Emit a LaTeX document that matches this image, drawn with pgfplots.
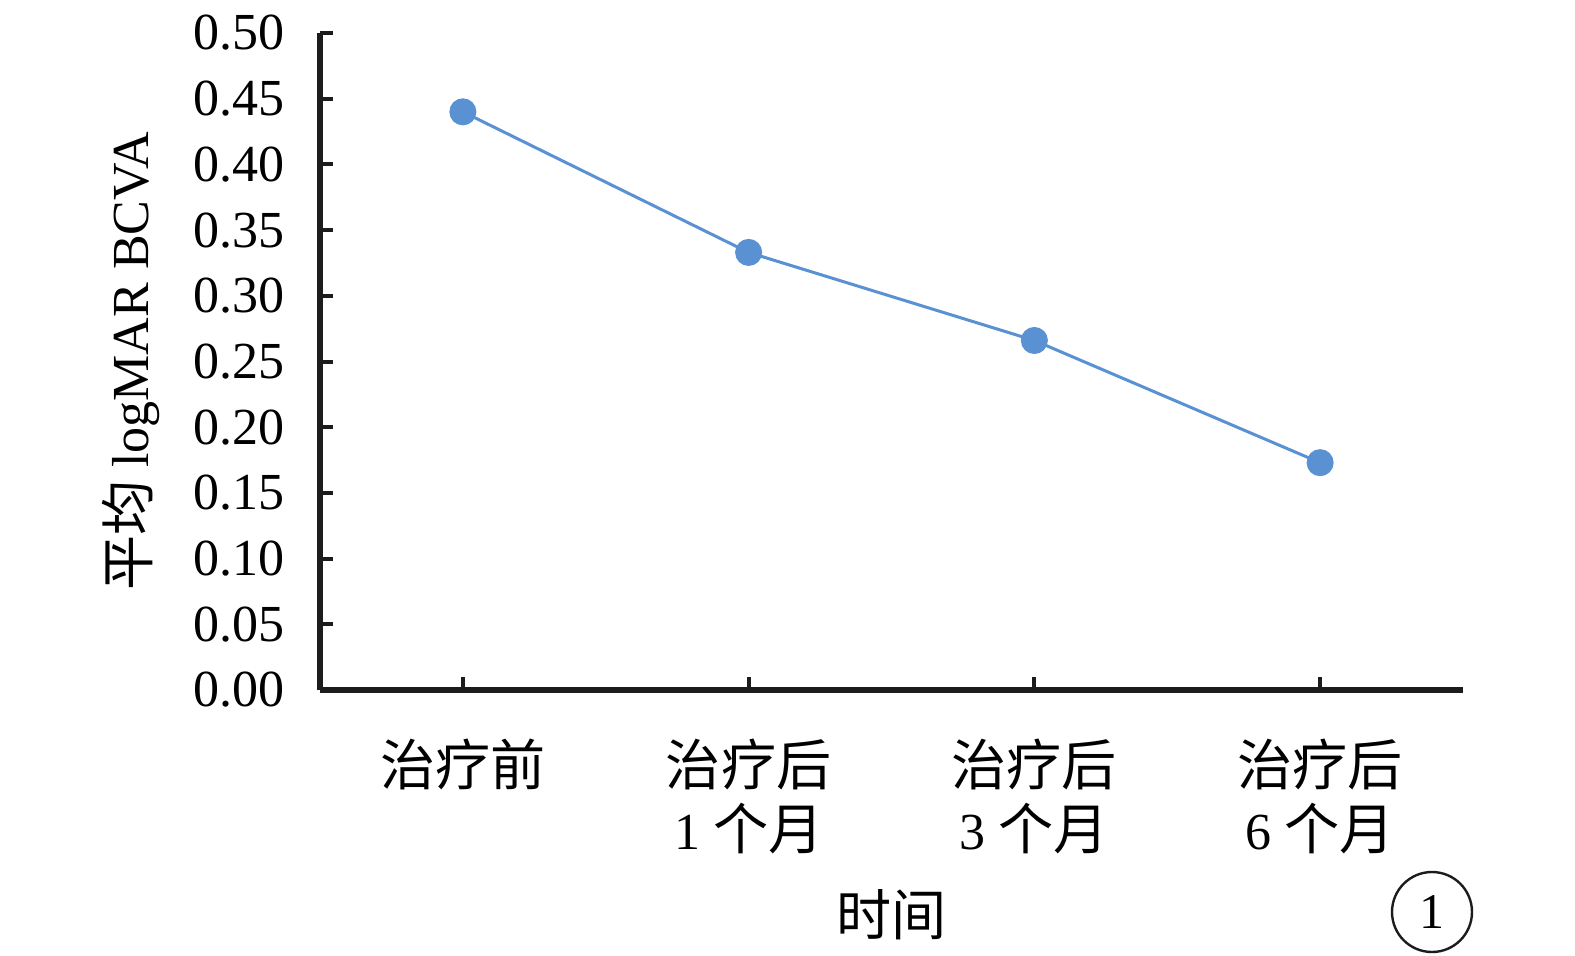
\documentclass[border=0pt]{standalone}
\usepackage{pgfplots}
\pgfplotsset{compat=1.18}
\usepackage{fontspec}
\setmainfont{Liberation Serif}
\newfontfamily\cjk[Scale=1.06]{Noto Sans CJK SC}
\definecolor{lineblue}{RGB}{90,145,210}
\definecolor{axisblack}{RGB}{30,27,28}
\begin{document}
\begin{tikzpicture}
\useasboundingbox (-160pt,-132.5pt) rectangle (627.5pt,345pt);
\begin{axis}[
  at={(0,0)}, anchor=south west, scale only axis,
  width=571.5pt, height=328.5pt,
  xmin=-0.5, xmax=3.5, ymin=0, ymax=0.5,
  axis x line*=bottom, axis y line*=left,
  axis line style={line width=2.8pt, color=axisblack},
  tick align=inside, major tick length=6.5pt,
  tick style={line width=2pt, color=axisblack},
  xtick={0,1,2,3},
  xticklabels={{{\cjk 治疗前}},{{\cjk 治疗后}\\1 {\cjk 个月}},{{\cjk 治疗后}\\3 {\cjk 个月}},{{\cjk 治疗后}\\6 {\cjk 个月}}},
  ytick={0,0.05,...,0.51},
  /pgf/number format/fixed, /pgf/number format/fixed zerofill,
  /pgf/number format/precision=2, /pgf/number format/assume math mode=true,
  ticklabel style={font=\fontsize{26}{32}\selectfont},
  xticklabel style={align=center, anchor=north, yshift=-21pt},
  yticklabel style={xshift=-14pt},
  xlabel={{\cjk 时间}}, ylabel={{\cjk 平均} logMAR BCVA},
  label style={font=\fontsize{26}{30}\selectfont},
  xlabel style={at={(axis description cs:0.5,0)}, anchor=center, yshift=-112.5pt},
  ylabel style={at={(axis description cs:-0.165,0.5)}, anchor=center},
  clip=false,
]
\addplot[color=lineblue, line width=1.5pt, mark=*, mark size=6pt, mark options={fill=lineblue, draw=lineblue}] coordinates {
  (0, 0.440)
  (1, 0.333)
  (2, 0.266)
  (3, 0.173)
};
\end{axis}
\node[draw=axisblack, circle, line width=1.2pt, minimum size=40pt, inner sep=0pt, font=\fontsize{25}{30}\selectfont] at (556pt,-111pt) {1};
\end{tikzpicture}
\end{document}
